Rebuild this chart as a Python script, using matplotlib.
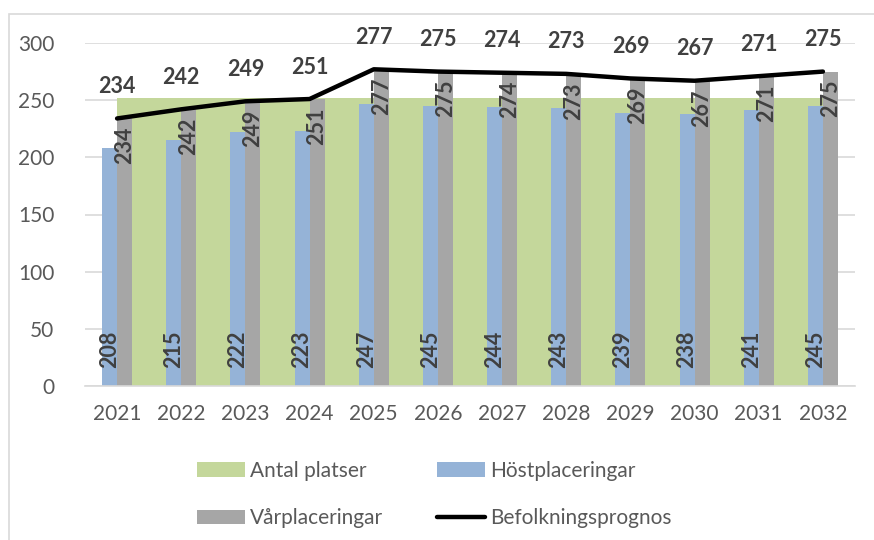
import matplotlib
matplotlib.use("Agg")
import matplotlib.pyplot as plt
from matplotlib.patches import Rectangle, Patch
from matplotlib.lines import Line2D
import numpy as np

years = ["2021", "2022", "2023", "2024", "2025", "2026", "2027", "2028", "2029", "2030", "2031", "2032"]
antal_platser = 252
host = [208, 215, 222, 223, 247, 245, 244, 243, 239, 238, 241, 245]
var = [234, 242, 249, 251, 277, 275, 274, 273, 269, 267, 271, 275]
befolkning = [234, 242, 249, 251, 277, 275, 274, 273, 269, 267, 271, 275]

GREEN = "#C4D79B"
BLUE = "#95B3D7"
GRAY = "#A6A6A6"
TXT = "#595959"
LBL = "#404040"

plt.rcParams['font.family'] = ['Lato', 'DejaVu Sans']

W, H = 874, 540
fig = plt.figure(figsize=(W / 100, H / 100), dpi=100)
ax = fig.add_axes([85 / W, 1 - 386 / H, (855 - 85) / W, (386 - 43) / H])

x = np.arange(len(years))
bw = 0.235

# green area (Antal platser)
ax.fill_between([x[0], x[-1] + bw], [antal_platser, antal_platser], 0,
                color=GREEN, zorder=1, linewidth=0)

ax.bar(x - bw / 2, host, width=bw, color=BLUE, zorder=2)
ax.bar(x + bw / 2, var, width=bw, color=GRAY, zorder=2)
ax.plot(x, befolkning, color="black", lw=3.2, zorder=3, solid_capstyle='round')

fs = 15.5
for i in range(len(years)):
    ax.annotate(str(host[i]), (x[i] - bw / 2, 0), xytext=(0, 13), textcoords="offset points",
                rotation=90, ha="center", va="bottom", fontsize=fs, fontweight="bold", color=LBL, zorder=4)
    ax.annotate(str(var[i]), (x[i] + bw / 2, var[i]), xytext=(0, -6), textcoords="offset points",
                rotation=90, ha="center", va="top", fontsize=fs, fontweight="bold", color=LBL, zorder=4)
    ax.annotate(str(befolkning[i]), (x[i], befolkning[i]), xytext=(0, 23), textcoords="offset points",
                ha="center", va="center", fontsize=fs, fontweight="bold", color=LBL, zorder=4)

ax.set_xlim(-0.5, len(years) - 0.5)
ax.set_ylim(0, 300)
ax.set_yticks(range(0, 301, 50))
ax.set_xticks(x)
ax.set_xticklabels(years)
ax.yaxis.grid(True, color="#D9D9D9", lw=1.2, zorder=0)
ax.set_axisbelow(True)
for s in ["top", "right", "left"]:
    ax.spines[s].set_visible(False)
ax.spines["bottom"].set_color("#D9D9D9")
ax.spines["bottom"].set_linewidth(1.2)
ax.tick_params(axis="both", length=0, labelsize=15, colors=TXT)
ax.tick_params(axis="y", pad=22)
ax.tick_params(axis="x", pad=13)

handles = [Patch(facecolor=GREEN, edgecolor="none"),
           Patch(facecolor=GRAY, edgecolor="none"),
           Patch(facecolor=BLUE, edgecolor="none"),
           Line2D([0], [0], color="black", lw=3.2, solid_capstyle='round')]
labels = ["Antal platser", "Vårplaceringar", "Höstplaceringar", "Befolkningsprognos"]
leg = fig.legend(handles, labels, ncol=2, loc="upper left",
                 bbox_to_anchor=(197 / W, 1 - 461 / H), frameon=False, fontsize=15,
                 handlelength=2.3, handleheight=0.7, handletextpad=0.25,
                 columnspacing=2.6, labelspacing=1.3, borderaxespad=0, borderpad=0)
for t in leg.get_texts():
    t.set_color(TXT)

fig.patches.append(Rectangle((8.5 / W, -0.1), 1.2, 1 - 14 / H + 0.1, transform=fig.transFigure,
                             fill=False, edgecolor="#D9D9D9", lw=1.2))

fig.savefig("out.png", dpi=100)
